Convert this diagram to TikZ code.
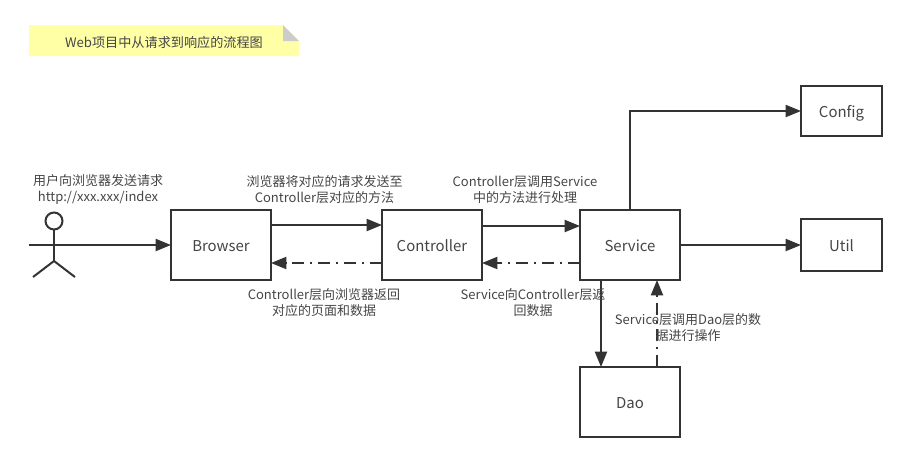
\documentclass[tikz,border=0pt]{standalone}
\usepackage{fontspec}
\setmainfont{Noto Sans CJK SC}
\usetikzlibrary{arrows.meta}
\definecolor{ink}{HTML}{333333}
\definecolor{txt}{HTML}{454545}
\definecolor{noteY}{HTML}{FFFFA6}
\definecolor{foldG}{HTML}{CCCCCC}
\newcommand{\labfont}{\fontsize{9.75pt}{12pt}\selectfont\setlength{\lineskiplimit}{-6pt}}
\tikzset{
  box/.style={draw=ink,line width=1.5pt,fill=white,inner sep=0pt,outer sep=0pt,text=txt,text height=12.5pt,text depth=2.5pt,font=\fontsize{11.2pt}{13pt}\selectfont},
  lab/.style={text=txt,font=\labfont,align=center,inner sep=0pt},
  conn/.style={draw=ink,line width=1.5pt,-{Triangle[length=11.5pt,width=9pt]}},
  ret/.style={conn,dash pattern=on 9pt off 4.5pt on 1.5pt off 4.5pt},
  limb/.style={draw=ink,line width=1.5pt}
}
\begin{document}
\begin{tikzpicture}[x=0.75pt,y=-0.75pt]
\useasboundingbox (0,0) rectangle (907,462);
% note
\fill[noteY] (29,25) -- (283,25) -- (299,41) -- (299,56) -- (29,56) -- cycle;
\fill[foldG] (283,25) -- (283,41) -- (299,41) -- cycle;
\node[lab,font=\fontsize{9.85pt}{12pt}\selectfont] (title) at (164,42) {Web项目中从请求到响应的流程图};
% boxes
\node[box,minimum width=75pt,minimum height=52.5pt] (browser) at (221,245) {Browser};
\node[box,minimum width=75pt,minimum height=52.5pt] (controller) at (432,245) {Controller};
\node[box,minimum width=75pt,minimum height=52.5pt] (service) at (630,245) {Service};
\node[box,minimum width=75pt,minimum height=52.5pt] (dao) at (630,402) {Dao};
\node[box,minimum width=60.75pt,minimum height=37.5pt] (config) at (841.5,111) {Config};
\node[box,minimum width=60.75pt,minimum height=39pt] (util) at (841.5,245) {Util};
% actor
\node[circle,draw=ink,line width=1.5pt,fill=white,minimum size=12.75pt,inner sep=0pt,outer sep=0pt] (head) at (54,221) {};
\coordinate (hip) at (54,261);
\coordinate (lfoot) at (33,277);
\coordinate (rfoot) at (75,277);
\coordinate (hand) at (29,245);
\draw[limb] (head.south) -- (hip);
\draw[limb] (lfoot) -- (hip) -- (rfoot);
% connectors
\draw[conn] (hand) -- (browser.west);
\draw[conn] ([yshift=15pt]browser.east) -- ([yshift=15pt]controller.west);
\draw[ret] ([yshift=-13.5pt]controller.west) -- ([yshift=-13.5pt]browser.east);
\draw[conn] ([yshift=14.25pt]controller.east) -- ([yshift=14.25pt]service.west);
\draw[ret] ([yshift=-13.5pt]service.west) -- ([yshift=-13.5pt]controller.east);
\draw[conn] (service.north) |- (config.west);
\draw[conn] (service.east) -- (util.west);
\draw[conn] ([xshift=-21.75pt]service.south) -- ([xshift=-21.75pt]dao.north);
\draw[ret] ([xshift=20.25pt]dao.north) -- ([xshift=20.25pt]service.south);
% labels
\node[lab] (l1) at (98,189) {用户向浏览器发送请求\\http://xxx.xxx/index};
\node[lab] (l2) at (324.5,190) {浏览器将对应的请求发送至\\Controller层对应的方法};
\node[lab] (l3) at (525,190) {Controller层调用Service\\中的方法进行处理};
\node[lab] (l4) at (324,303) {Controller层向浏览器返回\\对应的页面和数据};
\node[lab] (l5) at (533,303) {Service向Controller层返\\回数据};
\node[lab] (l6) at (688,328) {Service层调用Dao层的数\\据进行操作};
\end{tikzpicture}
\end{document}
